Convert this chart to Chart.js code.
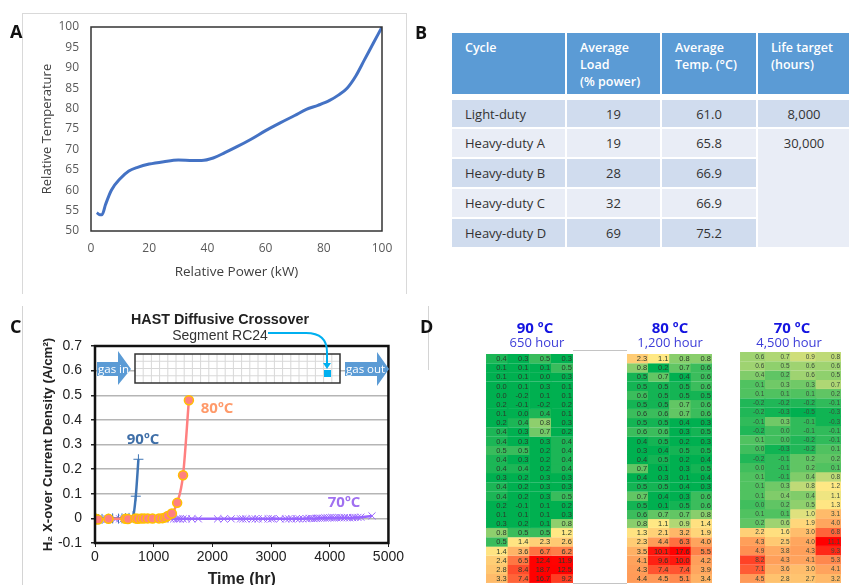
<!DOCTYPE html>
<html>
<head>
<meta charset="utf-8">
<title>Panels A to D</title>
<script src="https://cdn.jsdelivr.net/npm/chart.js@4"></script>
<style>
html, body { margin: 0; padding: 0; background: #fff; overflow: hidden; }
body { position: relative; width: 849px; height: 585px; font-family: "Open Sans", sans-serif; }
canvas, .abs { position: absolute; }
.letter { font-weight: 700; font-size: 18px; color: #111; }
.tag { font-weight: 700; font-size: 15px; transform: translate(-50%, -50%); white-space: nowrap; }
.mapTitle { font-weight: 700; font-size: 15px; color: #1414e0; transform: translate(-50%, -50%); white-space: nowrap; }
.mapSub { font-size: 13px; color: #3c3cd8; transform: translate(-50%, -50%); white-space: nowrap; }
#tbl { left: 450px; top: 31px; border-collapse: separate; border-spacing: 2px; table-layout: fixed; width: 402px; font-size: 13px; color: #333; }
#tbl th { background: #5b9bd5; color: #fff; font-size: 12.5px; font-weight: 600; text-align: left; vertical-align: top; padding: 6px 0 0 13px; line-height: 17px; height: 61px; box-sizing: border-box; }
#tbl td { text-align: center; height: 28px; padding: 0; box-sizing: border-box; }
#tbl td:first-child { text-align: left; padding-left: 13px; }
#tbl tr.spacer td { height: 2px; background: #fff; }
#tbl tr.first td { height: 27px; }
</style>
</head>
<body>
<div class="abs" style="left:22px;top:13px;width:383px;height:280px;border:1px solid #d9d9d9;border-bottom:0"></div>
<div class="abs" style="left:22px;top:306px;width:1px;height:279px;background:#d4d4d4"></div>
<div class="abs" style="left:428px;top:306px;width:1px;height:64px;background:#d4d4d4"></div>
<div class="abs" style="left:573px;top:350px;width:54px;height:1px;background:#c4c4c4"></div>
<div class="abs" style="left:573px;top:583px;width:54px;height:1px;background:#c4c4c4"></div>

<canvas id="chartA" width="384" height="280" style="left:22px;top:13px"></canvas>
<canvas id="chartC" width="384" height="283" style="left:22px;top:306px"></canvas>
<canvas id="map90" width="87" height="229" style="left:486px;top:354px"></canvas>
<canvas id="map80" width="85" height="229" style="left:627px;top:354px"></canvas>
<canvas id="map70" width="101" height="231" style="left:740px;top:352px"></canvas>

<table id="tbl" class="abs"></table>

<svg class="abs" id="overlay" width="849" height="585" style="left:0;top:0">
  <g id="cellGrid" stroke="#d8d8d8" stroke-width="1"></g>
  <rect x="135" y="354" width="205" height="29" fill="none" stroke="#333" stroke-width="1.5"></rect>
  <polygon points="97,362 118,362 118,351 131,369 118,385 118,376 97,376" fill="#5b9bd5"></polygon>
  <polygon points="345,362 377,362 377,352 389,369 377,386 377,376 345,376" fill="#5b9bd5"></polygon>
  <text x="98" y="373" font-family="Open Sans" font-size="11.5" fill="#fff">gas in</text>
  <text x="346" y="373" font-family="Open Sans" font-size="11.5" fill="#fff">gas out</text>
  <rect x="324" y="370" width="7" height="7" fill="#00b0f0"></rect>
  <path d="M268 333 H306 Q327 333 327 352 V364" fill="none" stroke="#00b0f0" stroke-width="2"></path>
  <polygon points="323,363 331,363 327,369" fill="#00b0f0"></polygon>
  <text x="220" y="324" text-anchor="middle" font-family="Liberation Sans" font-weight="700" font-size="14.3" fill="#222">HAST Diffusive Crossover</text>
  <text x="220" y="340" text-anchor="middle" font-family="Liberation Sans" font-size="14" fill="#333">Segment RC24</text>
</svg>

<div class="abs letter" style="left:10px;top:19px">A</div>
<div class="abs letter" style="left:415px;top:20px">B</div>
<div class="abs letter" style="left:10px;top:314px">C</div>
<div class="abs letter" style="left:420px;top:314px">D</div>
<div class="abs tag" style="left:143px;top:438px;color:#3f6fa8">90ºC</div>
<div class="abs tag" style="left:217px;top:407px;color:#ff9a6a">80ºC</div>
<div class="abs tag" style="left:344px;top:501px;color:#a070f0">70ºC</div>
<div class="abs mapTitle" style="left:535px;top:327px">90 ºC</div>
<div class="abs mapSub" style="left:537px;top:342px">650 hour</div>
<div class="abs mapTitle" style="left:670px;top:327px">80 ºC</div>
<div class="abs mapSub" style="left:670px;top:342px">1,200 hour</div>
<div class="abs mapTitle" style="left:792px;top:327px">70 ºC</div>
<div class="abs mapSub" style="left:789px;top:342px">4,500 hour</div>

<script>
// panel A
var powerX = [2, 3, 3.8, 5, 7, 10, 13, 16, 20, 25, 30, 35, 38, 42, 46, 50, 55, 60, 65, 70, 74, 78, 82, 85, 88, 91, 94, 97, 100];
var tempY = [54.5, 54, 54, 56.5, 60, 62.8, 64.7, 65.6, 66.4, 67, 67.4, 67.3, 67.3, 67.9, 69.2, 70.6, 72.5, 74.6, 76.5, 78.3, 79.8, 80.8, 82, 83.3, 85, 88, 92, 96, 100];

// panel B
var tableHead = [['Cycle'], ['Average', 'Load', '(% power)'], ['Average', 'Temp. (°C)'], ['Life target', '(hours)']];
var cycles = ['Light-duty', 'Heavy-duty A', 'Heavy-duty B', 'Heavy-duty C', 'Heavy-duty D'];
var avgLoad = ['19', '19', '28', '32', '69'];
var avgTemp = ['61.0', '65.8', '66.9', '66.9', '75.2'];
var lifeTarget = ['8,000', '30,000'];

// panel C
var t80 = [0, 50, 230, 520, 560, 690, 730, 790, 840, 900, 980, 1090, 1150, 1200, 1240, 1310, 1400, 1500, 1600];
var y80 = [0, -0.005, -0.002, -0.002, -0.003, 0, -0.002, -0.001, 0, 0, -0.001, 0, 0.001, 0.004, 0.01, 0.02, 0.063, 0.175, 0.48];
var t90 = [0, 60, 120, 230, 300, 400, 460, 520, 580, 650, 695, 740];
var y90 = [0, -0.003, -0.002, -0.002, 0, -0.001, 0, 0.001, 0.002, 0.01, 0.09, 0.24];
var t70 = [0, 50, 110, 200, 250, 350, 420, 480, 520, 560, 610, 700, 780, 900, 1050, 1200, 1290, 1340, 1390, 1420, 1450, 1500, 1560, 1650, 1760, 2090, 2200, 2320, 2480, 2520, 2570, 2680, 2730, 2780, 2860, 2950, 3000, 3030, 3150, 3250, 3300, 3350, 3430, 3480, 3540, 3600, 3650, 3690, 3730, 3770, 3800, 3840, 3880, 3920, 3960, 4000, 4040, 4080, 4120, 4160, 4200, 4250, 4300, 4340, 4390, 4430, 4480, 4530, 4720];
var y70 = [0, -0.004, -0.003, -0.003, -0.002, -0.003, -0.002, -0.002, -0.003, -0.003, -0.002, -0.002, -0.002, -0.002, -0.002, -0.002, -0.002, -0.002, -0.002, -0.002, -0.002, -0.002, -0.002, -0.002, -0.002, -0.002, -0.002, -0.002, -0.002, -0.002, -0.002, -0.002, -0.002, -0.002, -0.002, -0.002, -0.002, -0.001, -0.002, -0.002, -0.002, -0.002, -0.001, -0.002, -0.002, -0.001, 0, 0, -0.001, 0, 0.001, 0.001, 0.001, 0.002, 0.002, 0.003, 0.003, 0.002, 0.003, 0.003, 0.003, 0.003, 0.003, 0.002, 0.003, 0.004, 0.004, 0.005, 0.01];

// panel D
var rows90 = [
  [0.4, 0.3, 0.5, 0.3], [0.1, 0.1, 0.1, 0.5], [0.1, 0.1, 0.0, 0.3], [0.0, 0.1, 0.3, 0.1], [0.0, -0.2, 0.1, 0.1],
  [0.2, -0.1, -0.2, 0.2], [0.1, 0.0, 0.4, 0.1], [0.2, 0.4, 0.8, 0.3], [0.4, 0.3, 0.7, 0.2], [0.4, 0.3, 0.3, 0.4],
  [0.5, 0.5, 0.2, 0.4], [0.4, 0.3, 0.2, 0.4], [0.4, 0.4, 0.2, 0.4], [0.3, 0.2, 0.3, 0.3], [0.4, 0.2, 0.3, 0.3],
  [0.4, 0.2, 0.3, 0.5], [0.2, -0.1, 0.1, 0.2], [0.1, 0.1, 0.1, 0.3], [0.3, 0.2, 0.1, 0.8], [0.8, 0.5, 0.5, 1.2],
  [0.5, 1.4, 2.3, 2.6], [1.4, 3.6, 6.7, 6.2], [2.4, 6.5, 12.4, 11.9], [2.8, 8.4, 18.7, 12.5], [3.3, 7.4, 16.7, 9.2]
];
var rows80 = [
  [2.3, 1.1, 0.8, 0.8], [0.8, 0.2, 0.7, 0.6], [0.5, 0.7, 0.4, 0.6], [0.5, 0.5, 0.5, 0.6], [0.6, 0.5, 0.5, 0.5],
  [0.5, 0.5, 0.7, 0.6], [0.6, 0.6, 0.7, 0.6], [0.5, 0.5, 0.4, 0.3], [0.6, 0.6, 0.3, 0.5], [0.4, 0.5, 0.2, 0.3],
  [0.3, 0.4, 0.5, 0.5], [0.4, 0.5, 0.2, 0.4], [0.7, 0.1, 0.3, 0.5], [0.4, 0.3, 0.1, 0.4], [0.5, 0.5, 0.4, 0.3],
  [0.7, 0.4, 0.3, 0.6], [0.5, 0.1, 0.5, 0.6], [0.6, 0.7, 0.7, 0.8], [0.8, 1.1, 0.9, 1.4], [1.3, 2.1, 3.2, 1.9],
  [2.3, 4.4, 6.3, 4.0], [3.5, 10.1, 17.6, 5.5], [4.1, 9.6, 10.0, 4.2], [4.3, 7.4, 7.4, 3.9], [4.4, 4.5, 5.1, 3.4]
];
var rows70 = [
  [0.6, 0.7, 0.9, 0.8], [0.6, 0.5, 0.6, 0.6], [0.4, 0.2, 0.6, 0.5], [0.1, 0.3, 0.3, 0.7], [0.1, 0.1, 0.1, 0.2],
  [-0.2, -0.2, -0.2, -0.1], [-0.2, -0.3, -0.5, -0.3], [-0.1, 0.3, -0.1, -0.3], [-0.2, 0.0, -0.1, -0.1], [0.1, 0.0, -0.2, -0.1],
  [0.0, -0.3, -0.2, 0.1], [-0.2, -0.1, 0.2, 0.2], [0.0, -0.1, 0.2, 0.1], [0.1, -0.1, 0.4, 0.8], [0.1, 0.3, 0.8, 1.2],
  [0.1, 0.4, 0.4, 1.1], [0.0, 0.2, 0.5, 1.3], [0.1, 0.1, 1.0, 3.1], [0.2, 0.6, 1.9, 4.0], [2.2, 1.6, 3.0, 6.8],
  [4.3, 2.5, 4.0, 11.1], [4.9, 3.8, 4.3, 9.3], [8.2, 4.3, 4.1, 5.3], [7.1, 3.6, 3.0, 4.1], [4.5, 2.8, 2.7, 3.2]
];
var mapColumns = ['a', 'b', 'c', 'd'];

function toPoints(xs, ys) {
  return xs.map(function (x, i) { return { x: x, y: ys[i] }; });
}

function framePlugin(color, width) {
  return {
    id: 'frame',
    afterDatasetsDraw: function (chart) {
      var a = chart.chartArea, c = chart.ctx;
      c.save();
      c.strokeStyle = color;
      c.lineWidth = width;
      c.strokeRect(a.left, a.top, a.right - a.left, a.bottom - a.top);
      c.restore();
    }
  };
}

new Chart(document.getElementById('chartA'), {
  type: 'scatter',
  data: {
    datasets: [{
      data: toPoints(powerX, tempY),
      showLine: true,
      borderColor: '#4472c4',
      borderWidth: 3,
      pointRadius: 0,
      cubicInterpolationMode: 'monotone'
    }]
  },
  options: {
    responsive: false,
    animation: false,
    layout: { padding: { top: 14, right: 24, left: 17, bottom: 13 } },
    plugins: { legend: { display: false }, tooltip: { enabled: false } },
    scales: {
      x: {
        min: 0, max: 100,
        grid: { display: false },
        border: { display: false },
        ticks: { stepSize: 20, color: '#595959', maxRotation: 0, padding: 2, font: { family: 'Open Sans', size: 12 } },
        title: { display: true, text: 'Relative Power (kW)', color: '#404040', padding: { top: 0, bottom: 0 }, font: { family: 'Open Sans', size: 13.5 } },
        afterFit: function (s) { s.height = 49; }
      },
      y: {
        min: 50, max: 100,
        grid: { display: false },
        border: { display: false },
        ticks: { stepSize: 5, color: '#595959', padding: 4, font: { family: 'Open Sans', size: 12 } },
        title: { display: true, text: 'Relative Temperature', color: '#404040', padding: { top: 0, bottom: 0 }, font: { family: 'Open Sans', size: 13 } },
        afterFit: function (s) { s.width = 52; }
      }
    }
  },
  plugins: [framePlugin('#333', 1.5)]
});

new Chart(document.getElementById('chartC'), {
  type: 'scatter',
  data: {
    datasets: [{
      data: toPoints(t80, y80),
      showLine: true,
      borderColor: '#ff8080',
      borderWidth: 2.5,
      backgroundColor: '#ff8080',
      pointBorderColor: '#ffc000',
      pointBorderWidth: 1.5,
      pointRadius: 4.5,
      cubicInterpolationMode: 'monotone'
    }, {
      data: toPoints(t90, y90),
      showLine: true,
      borderColor: '#3f75b5',
      borderWidth: 2.5,
      pointStyle: 'cross',
      pointBorderWidth: 1,
      pointRadius: 5,
      cubicInterpolationMode: 'monotone'
    }, {
      data: toPoints(t70, y70),
      showLine: true,
      borderColor: '#9966ff',
      borderWidth: 2.5,
      pointStyle: 'crossRot',
      pointBorderWidth: 1,
      pointRadius: 5
    }]
  },
  options: {
    responsive: false,
    animation: false,
    layout: { padding: { top: 40, right: 16, left: 18, bottom: 0 } },
    plugins: { legend: { display: false }, tooltip: { enabled: false } },
    scales: {
      x: {
        min: 0, max: 5000,
        grid: { display: true, drawOnChartArea: false, tickColor: '#222', tickLength: 4 },
        border: { display: false },
        ticks: {
          stepSize: 1000, color: '#222', maxRotation: 0, padding: 2,
          font: { family: 'Liberation Sans', size: 14 },
          callback: function (v) { return String(v); }
        },
        title: { display: true, text: 'Time (hr)', color: '#222', padding: { top: 0, bottom: 0 }, font: { family: 'Liberation Sans', size: 16, weight: 'bold' } },
        afterFit: function (s) { s.height = 46; }
      },
      y: {
        min: -0.1, max: 0.7,
        grid: { color: '#b5b5b5', lineWidth: 1.5, tickColor: '#222', tickLength: 4 },
        border: { display: false },
        ticks: {
          stepSize: 0.1, color: '#222', padding: 9,
          font: { family: 'Liberation Sans', size: 14 },
          callback: function (v) { return String(Math.round(v * 10) / 10); }
        },
        title: { display: true, text: 'H₂ X-over Current Density (A/cm²)', color: '#222', padding: { top: 0, bottom: 0 }, font: { family: 'Liberation Sans', size: 13.3, weight: 'bold' } },
        afterFit: function (s) { s.width = 55; }
      }
    }
  },
  plugins: [framePlugin('#111', 2.5)]
});

// three stop scale: green up to low, yellow at mid, red from high
function heatColor(v, low, mid, high) {
  var green = [0, 176, 80], yellow = [255, 232, 132], red = [255, 0, 0];
  var a, b, t;
  if (v <= mid) { a = green; b = yellow; t = (v - low) / (mid - low); }
  else { a = yellow; b = red; t = (v - mid) / (high - mid); }
  t = Math.max(0, Math.min(1, t));
  return 'rgb(' + a.map(function (c, i) { return Math.round(c + (b[i] - c) * t); }).join(',') + ')';
}

var cellLabels = {
  id: 'cellLabels',
  afterDatasetsDraw: function (chart, args, opts) {
    var c = chart.ctx;
    c.save();
    c.font = opts.size + 'px "Liberation Sans"';
    c.fillStyle = opts.color;
    c.textAlign = 'right';
    c.textBaseline = 'middle';
    chart.data.datasets.forEach(function (ds, r) {
      chart.getDatasetMeta(r).data.forEach(function (bar, col) {
        var rightEdge = bar.x + bar.width / 2 - 1;
        c.fillText(ds.cellValues[col].toFixed(1), rightEdge, (bar.y + bar.base) / 2 + 0.5);
      });
    });
    c.restore();
  }
};

function drawMap(id, rows, low, mid, high, textSize, textColor) {
  new Chart(document.getElementById(id), {
    type: 'bar',
    data: {
      labels: mapColumns,
      datasets: rows.map(function (row) {
        return {
          cellValues: row,
          data: row.map(function () { return 1; }),
          backgroundColor: row.map(function (v) { return heatColor(v, low, mid, high); }),
          borderColor: row.map(function (v) { return heatColor(v, low, mid, high); }),
          borderWidth: 0.5,
          barPercentage: 1,
          categoryPercentage: 1
        };
      })
    },
    options: {
      responsive: false,
      animation: false,
      layout: { padding: 0 },
      plugins: {
        legend: { display: false },
        tooltip: { enabled: false },
        cellLabels: { size: textSize, color: textColor }
      },
      scales: {
        x: { stacked: true, display: false },
        y: { stacked: true, display: false, reverse: true, min: 0, max: rows.length }
      }
    },
    plugins: [cellLabels]
  });
}

drawMap('map90', rows90, 0.3, 1.2, 12, 7.5, '#2b3a2b');
drawMap('map80', rows80, 0.45, 1.1, 11, 7.5, '#2b3a2b');
drawMap('map70', rows70, -0.4, 1.2, 11, 6.5, '#3b4a3b');

// table in panel B
var tbl = document.getElementById('tbl');
var html = '<colgroup><col style="width:113px"><col style="width:93px"><col style="width:94px"><col style="width:92px"></colgroup><tr>';
tableHead.forEach(function (lines) { html += '<th>' + lines.join('<br>') + '</th>'; });
html += '</tr><tr class="spacer"><td colspan="4"></td></tr>';
cycles.forEach(function (name, i) {
  var bg = i % 2 === 0 ? '#d0dcee' : '#e9edf6';
  var s = ' style="background:' + bg + '"';
  html += '<tr' + (i === 0 ? ' class="first"' : '') + '><td' + s + '>' + name + '</td><td' + s + '>' + avgLoad[i] + '</td><td' + s + '>' + avgTemp[i] + '</td>';
  if (i === 0) html += '<td' + s + '>' + lifeTarget[0] + '</td>';
  if (i === 1) html += '<td rowspan="4" style="background:#e9edf6;vertical-align:top;padding-top:5px">' + lifeTarget[1] + '</td>';
  html += '</tr>';
});
tbl.innerHTML = html;

// grid inside the fuel cell sketch, sits on white above the chart gridline
var g = document.getElementById('cellGrid'), parts = '<rect x="135" y="354" width="205" height="29" fill="#fff" stroke="none"></rect>';
for (var i = 1; i < 25; i++) parts += '<line x1="' + (135 + i * 8.2) + '" y1="354" x2="' + (135 + i * 8.2) + '" y2="383"></line>';
for (var j = 1; j < 4; j++) parts += '<line x1="135" y1="' + (354 + j * 7.25) + '" x2="340" y2="' + (354 + j * 7.25) + '"></line>';
g.innerHTML = parts;
</script>
</body>
</html>
